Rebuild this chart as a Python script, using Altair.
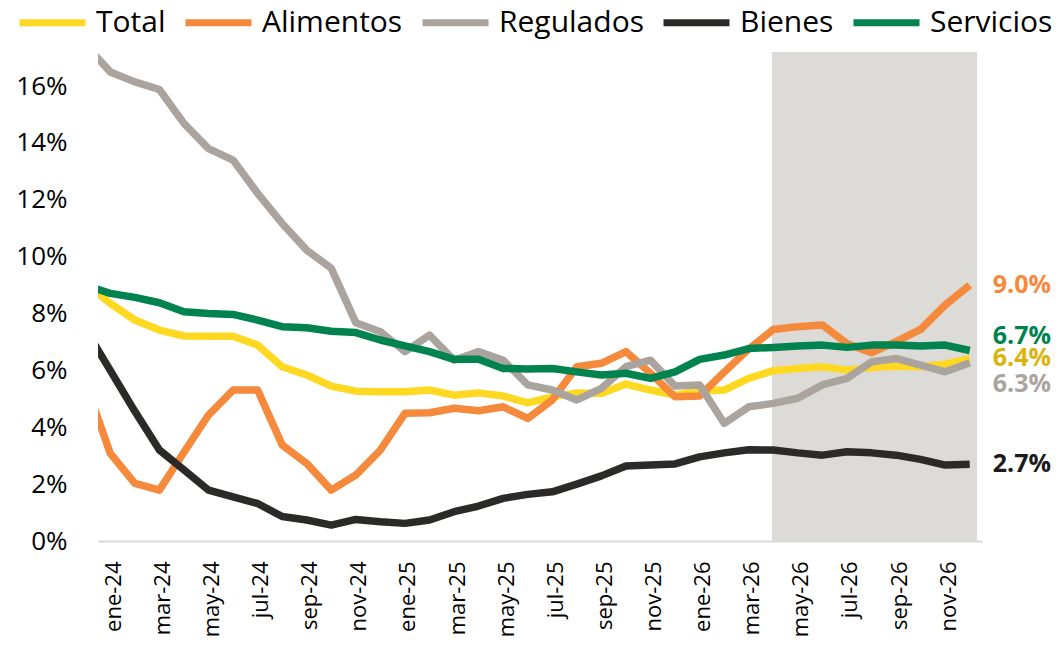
import json
import altair as alt
import pandas as pd

# Months (index -1 = dic-23, only the clipped lead-in segment is visible)
months = ["dic-23", "ene-24", "feb-24", "mar-24", "abr-24", "may-24", "jun-24", "jul-24", "ago-24",
          "sep-24", "oct-24", "nov-24", "dic-24", "ene-25", "feb-25", "mar-25", "abr-25", "may-25",
          "jun-25", "jul-25", "ago-25", "sep-25", "oct-25", "nov-25", "dic-25", "ene-26", "feb-26",
          "mar-26", "abr-26", "may-26", "jun-26", "jul-26", "ago-26", "sep-26", "oct-26", "nov-26",
          "dic-26"]

total = [9.06, 8.36, 7.77, 7.42, 7.21, 7.20, 7.20, 6.89, 6.13, 5.84, 5.45, 5.27, 5.25, 5.25,
         5.31, 5.13, 5.21, 5.10, 4.86, 5.07, 5.21, 5.19, 5.52, 5.31, 5.13, 5.28, 5.31, 5.72,
         5.99, 6.07, 6.13, 6.01, 6.10, 6.15, 6.13, 6.22, 6.42]
alimentos = [5.54, 3.08, 2.03, 1.79, 3.12, 4.43, 5.31, 5.31, 3.38, 2.73, 1.79, 2.32, 3.20, 4.49,
             4.51, 4.67, 4.58, 4.72, 4.31, 4.96, 6.13, 6.25, 6.66, 5.90, 5.07, 5.10, 5.94, 6.75,
             7.44, 7.54, 7.60, 6.95, 6.62, 7.01, 7.44, 8.30, 9.00]
regulados = [17.44, 16.50, 16.15, 15.88, 14.69, 13.80, 13.40, 12.23, 11.17, 10.23, 9.59, 7.68,
             7.36, 6.66, 7.24, 6.36, 6.66, 6.36, 5.49, 5.31, 4.96, 5.37, 6.13, 6.36, 5.45, 5.49,
             4.14, 4.72, 4.84, 5.02, 5.49, 5.72, 6.30, 6.42, 6.19, 5.95, 6.27]
bienes = [7.44, 6.00, 4.56, 3.20, 2.50, 1.79, 1.55, 1.32, 0.86, 0.74, 0.56, 0.76, 0.68, 0.62,
          0.74, 1.03, 1.23, 1.50, 1.64, 1.73, 2.00, 2.29, 2.64, 2.67, 2.71, 2.96, 3.10, 3.21,
          3.20, 3.10, 3.02, 3.14, 3.10, 3.02, 2.87, 2.67, 2.70]
servicios = [8.99, 8.71, 8.57, 8.38, 8.06, 8.00, 7.97, 7.77, 7.54, 7.50, 7.38, 7.33, 7.07, 6.86,
             6.66, 6.39, 6.39, 6.07, 6.05, 6.07, 5.95, 5.84, 5.90, 5.72, 5.95, 6.39, 6.54, 6.77,
             6.81, 6.86, 6.89, 6.81, 6.89, 6.89, 6.86, 6.89, 6.70]

series_names = ["Total", "Alimentos", "Regulados", "Bienes", "Servicios"]
series_values = [total, alimentos, regulados, bienes, servicios]
line_colors = ["#FFD822", "#F58A3C", "#ABA49E", "#2B2A29", "#00834E"]
label_colors = ["#D9B40C", "#F58A3C", "#ABA49E", "#1A1A1A", "#00834E"]
label_dy = [0, 0, 21, 0, -15]

shade_start = [26.95]   # forecast period (abr-26 onward)
shade_end = [35.3]

y_ticks = [0, 2, 4, 6, 8, 10, 12, 14, 16]
x_ticks = list(range(0, 35, 2))

rows = []
for name, vals in zip(series_names, series_values):
    for i, (m, v) in enumerate(zip(months, vals)):
        rows.append({"t": i - 1, "mes": m, "serie": name, "v": v})
df = pd.DataFrame(rows)

W, H = 884, 489
YMAX = 17.2
FONT = "Open Sans"

x_enc = alt.X(
    "t:Q",
    scale=alt.Scale(domain=[-0.5, 35.5], nice=False, zero=False),
    axis=alt.Axis(
        values=x_ticks,
        labelExpr=json.dumps(months) + "[datum.value + 1]",
        labelAngle=270, labelFontSize=22, labelFont=FONT, labelColor="#000000",
        labelPadding=20, labelOffset=3, ticks=False, grid=False,
        domainColor="#D9D9D9", domainWidth=2, title=None,
    ),
)
y_enc = alt.Y(
    "v:Q",
    scale=alt.Scale(domain=[0, YMAX], nice=False, zero=True),
    axis=alt.Axis(
        values=y_ticks, labelExpr="datum.value + '%'",
        labelFontSize=26, labelFont=FONT, labelColor="#000000", labelPadding=31,
        domain=False, ticks=False, grid=False, title=None,
    ),
)

legend = alt.Legend(
    orient="none", legendX=-82, legendY=-66, direction="horizontal", title=None,
    symbolType="stroke", symbolStrokeWidth=7, symbolSize=4356, symbolOpacity=1,
    labelFontSize=30, labelFont=FONT, labelColor="#000000", labelOffset=7,
    columnPadding=5, labelLimit=400, padding=0,
)
color_enc = alt.Color(
    "serie:N",
    scale=alt.Scale(domain=series_names, range=line_colors),
    legend=legend,
)

shade = alt.Chart(pd.DataFrame({"x0": shade_start, "x1": shade_end})).mark_rect(
    color="#DCDBD8"
).encode(x=alt.X("x0:Q", scale=alt.Scale(domain=[-0.5, 35.5], nice=False, zero=False)), x2="x1:Q")

lines = []
for name in series_names:
    lines.append(
        alt.Chart(df)
        .transform_filter(alt.datum.serie == name)
        .mark_line(strokeWidth=7.5, clip=True, strokeJoin="round")
        .encode(x=x_enc, y=y_enc, color=color_enc, order="t:Q")
    )

labels = []
for name, col, dy in zip(series_names, label_colors, label_dy):
    labels.append(
        alt.Chart(df)
        .transform_filter((alt.datum.serie == name) & (alt.datum.t == 35))
        .transform_calculate(lbl="format(datum.v, '.1f') + '%'")
        .mark_text(align="left", baseline="middle", dx=23, dy=dy, fontSize=25,
                   fontWeight="bold", font=FONT, color=col)
        .encode(x=x_enc, y=y_enc, text="lbl:N")
    )

chart = (
    alt.layer(shade, *lines, *labels)
    .properties(
        width=W, height=H,
        autosize=alt.AutoSizeParams(type="none"),
        padding={"left": 90, "top": 44, "right": 74, "bottom": 112},
        background="#FFFFFF",
    )
    .configure_view(stroke=None)
)

chart.save("out.html", embed_options={"renderer": "svg", "actions": False})
